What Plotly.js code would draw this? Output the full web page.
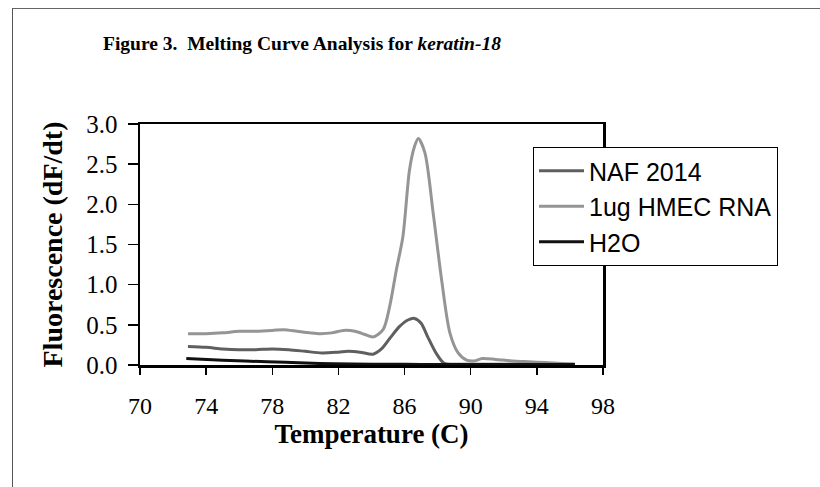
<!DOCTYPE html>
<html>
<head>
<meta charset="utf-8">
<script src="https://cdn.plot.ly/plotly-3.0.1.min.js"></script>
<style>
  html, body { margin: 0; padding: 0; background: #fff; }
  #wrap { position: relative; width: 820px; height: 487px; }
  #chart { width: 820px; height: 487px; }
  #frame { position: absolute; left: 12px; top: 8px; right: 0; bottom: 0;
           border-left: 1.5px solid #555; border-top: 1.5px solid #666; pointer-events: none; }
</style>
</head>
<body>
<div id="wrap">
  <div id="chart"></div>
  <div id="frame"></div>
</div>
<script>
// Temperatures (C) and dF/dt values
const naf_T = [72.9, 74, 75, 76, 77, 78, 79, 80, 81, 82, 82.6, 83.3, 84.1, 84.6, 85.1, 85.7, 86.2, 86.6, 87.0, 87.4, 87.9, 88.4, 89, 90, 92, 94, 96.3];
const naf_V = [0.23, 0.22, 0.20, 0.19, 0.19, 0.20, 0.19, 0.17, 0.15, 0.16, 0.17, 0.16, 0.135, 0.20, 0.33, 0.48, 0.56, 0.58, 0.52, 0.35, 0.15, 0.02, 0.01, 0.01, 0.01, 0.01, 0.01];

const hmec_T = [72.9, 74, 75, 76, 77, 78, 78.7, 79.5, 80.3, 80.9, 81.6, 82.3, 83, 83.6, 84.1, 84.7, 85.1, 85.5, 85.9, 86.3, 86.6, 86.83, 87.23, 87.73, 88.24, 88.74, 89.24, 89.75, 90.2, 90.7, 91.5, 92.5, 93.5, 94.5, 95.5, 96.3];
const hmec_V = [0.39, 0.39, 0.40, 0.42, 0.42, 0.43, 0.44, 0.42, 0.40, 0.39, 0.40, 0.43, 0.42, 0.38, 0.35, 0.44, 0.73, 1.18, 1.60, 2.43, 2.72, 2.82, 2.64, 1.89, 1.06, 0.40, 0.15, 0.06, 0.05, 0.08, 0.07, 0.05, 0.04, 0.03, 0.02, 0.01];

const h2o_T = [72.8, 75, 77.7, 80, 81.7, 84, 86, 88, 90, 92, 94, 96.3];
const h2o_V = [0.08, 0.06, 0.04, 0.025, 0.015, 0.01, 0.01, 0.005, 0.005, 0.005, 0.005, 0.005];

const names = ["NAF 2014", "1ug HMEC RNA", "H2O"];
const xTicks = [70, 74, 78, 82, 86, 90, 94, 98];
const yTicks = [0, 0.5, 1.0, 1.5, 2.0, 2.5, 3.0];

const serif = "Liberation Serif, Times New Roman, serif";
const sans = "Liberation Sans, Arial, sans-serif";

const traces = [
  {x: naf_T, y: naf_V, name: names[0], mode: "lines",
   line: {color: "#5f5f5f", width: 3, shape: "spline", smoothing: 0.8}},
  {x: hmec_T, y: hmec_V, name: names[1], mode: "lines",
   line: {color: "#959595", width: 3, shape: "spline", smoothing: 0.8}},
  {x: h2o_T, y: h2o_V, name: names[2], mode: "lines",
   line: {color: "#111111", width: 3, shape: "spline", smoothing: 0.8}}
];

const layout = {
  width: 820, height: 487,
  paper_bgcolor: "#ffffff", plot_bgcolor: "#ffffff",
  margin: {l: 140, r: 217, t: 124, b: 122},
  showlegend: true,
  title: {
    text: "<b>Figure 3.  Melting Curve Analysis for <i>keratin-18</i></b>",
    font: {family: serif, size: 19.5, color: "#000"},
    xref: "container", x: 103 / 820, xanchor: "left",
    yref: "container", y: 1 - 43 / 487, yanchor: "middle"
  },
  xaxis: {
    range: [70, 98], tickvals: xTicks, ticktext: xTicks.map(String),
    ticks: "outside", ticklen: 7, tickwidth: 1.5, tickcolor: "#000",
    ticklabelstandoff: 11,
    showline: true, linewidth: 2.5, linecolor: "#000", mirror: true,
    showgrid: false, zeroline: false,
    tickfont: {family: serif, size: 24, color: "#000"},
    title: {text: "<b>Temperature (C)</b>", font: {family: serif, size: 27, color: "#000"}, standoff: 4}
  },
  yaxis: {
    range: [0, 3], tickvals: yTicks, ticktext: yTicks.map(v => v.toFixed(1)),
    ticks: "outside", ticklen: 10, tickwidth: 1.5, tickcolor: "#000",
    ticklabelstandoff: 5,
    showline: true, linewidth: 2.5, linecolor: "#000", mirror: true,
    showgrid: false, zeroline: false,
    tickfont: {family: serif, size: 25, color: "#000"},
    title: {text: "<b>Fluorescence (dF/dt)</b>", font: {family: serif, size: 28, color: "#000"}, standoff: 16}
  },
  legend: {
    x: (533 - 140) / 463, xanchor: "left",
    y: (365 - 147) / 241, yanchor: "top",
    bgcolor: "#ffffff", bordercolor: "#000", borderwidth: 1,
    font: {family: sans, size: 25, color: "#000"},
    itemwidth: 45,
    tracegroupgap: 0
  }
};

Plotly.newPlot("chart", traces, layout, {displayModeBar: false, staticPlot: true});
</script>
</body>
</html>
